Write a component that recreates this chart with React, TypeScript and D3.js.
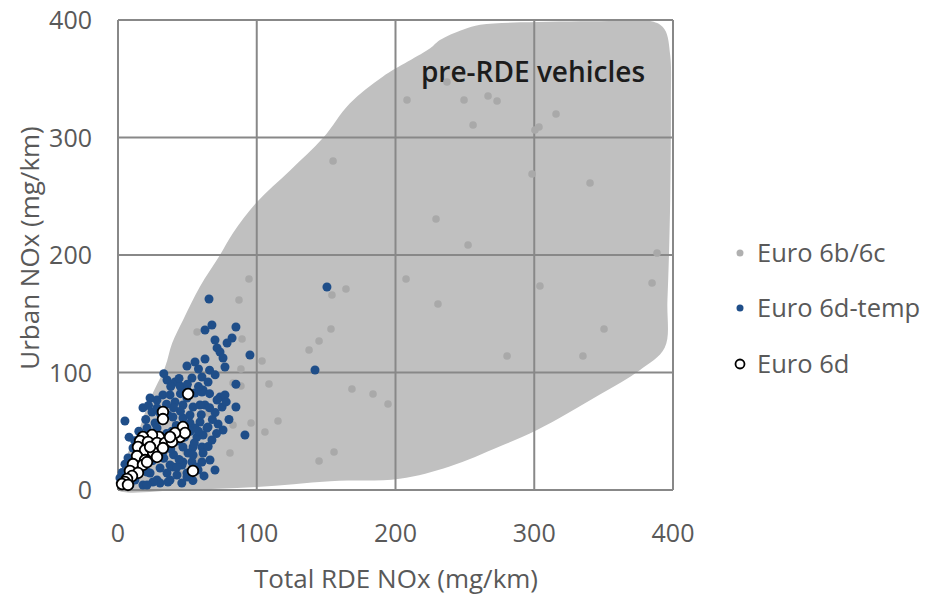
import React from 'react';
import * as d3 from 'd3';

// Total RDE NOx vs Urban NOx (mg/km)
const euro6bc: Array<[number, number]> = [
  [237.1, 347.2], [208.3, 331.9], [249.4, 331.9], [266.7, 335.3], [273.2, 331.1],
  [255.9, 310.6], [300.5, 306.4], [303.4, 308.9], [315.7, 320], [298.4, 268.9],
  [340.2, 261.3], [229.2, 230.6], [252.3, 208.5], [388.5, 201.7], [207.6, 179.6],
  [304.1, 173.6], [384.9, 176.2], [230.6, 158.3], [350.3, 137], [280.4, 114],
  [335.1, 114], [155, 280], [94.4, 179.6], [87.2, 161.7], [164.3, 171.1],
  [154.2, 166], [153.5, 137], [144.9, 126.8], [137.7, 119.1], [89.4, 128.5],
  [103.8, 109.8], [88.6, 103], [82.9, 91.1], [88.6, 88.5], [108.8, 90.2],
  [168.6, 86], [183.8, 81.7], [194.6, 73.2], [82.9, 55.3], [95.9, 57],
  [115.3, 58.7], [105.9, 49.4], [80.7, 31.5], [155.7, 32.3], [144.9, 24.7],
  [57, 134.5], [64.9, 65.5], [64.1, 46.8], [57.7, 27.2], [49, 32.3], [44, 13.6],
];

const euro6dTemp: Array<[number, number]> = [
  [5, 58.7], [65.6, 162.6], [150.6, 172.8], [142, 102.1], [85, 138.7],
  [82.2, 129.4], [95.1, 114.9], [85, 70.6], [91.5, 46.8], [67.7, 140.4],
  [62.7, 136.2], [69.9, 127.7], [78.6, 125.1], [71.4, 120.9], [73.5, 117.4],
  [75.7, 112.3], [77.1, 104.7], [62.7, 111.5], [55.5, 108.9], [49.7, 105.5],
  [35.3, 93.6], [41.1, 91.9], [44.7, 88.5], [53.3, 95.3], [60.5, 96.2],
  [64.9, 91.9], [49.7, 85.1], [55.5, 82.6], [61.3, 85.1], [73.5, 79.1],
  [77.1, 80.9], [75, 70.6], [71.4, 76.6], [28.1, 76.6], [32.4, 80.9],
  [37.5, 80.9], [41.1, 74.9], [46.8, 72.3], [54.1, 70.6], [62.7, 72.3],
  [24.5, 66.4], [30.3, 65.5], [36, 63.8], [39.6, 62.1], [46.8, 61.3],
  [51.9, 57], [59.1, 57.9], [64.9, 53.6], [72.1, 56.2], [75.7, 51.1],
  [26.7, 57], [25.2, 45.1], [56.9, 45.1], [60.5, 36.6], [54.1, 36.6],
  [46.8, 36.6], [50.5, 31.5], [46.8, 23.8], [39.6, 19.6], [53.3, 23.8],
  [35.3, 14.5], [28.1, 8.5], [30.3, 6], [37.5, 8.5], [23.1, 14.5],
  [23.1, 31.5], [61.3, 31.5], [56.9, 19.6], [7.2, 27.2], [10.8, 18.7],
  [1.4, 10.2], [8.6, 4.3], [18, 4.3], [25.2, 6.8], [42.5, 12.8],
  [49.7, 11.1], [57.7, 17], [37.5, 21.3], [46.1, 21.3], [32.4, 32.3],
  [54.1, 29.8], [61.3, 46.8], [55.5, 52.8], [51.9, 63.8], [59.1, 72.3],
  [60.5, 83.4], [23.1, 78.3], [28.1, 69.8], [32.4, 61.3], [49.7, 78.3],
  [28.1, 52.8], [20.9, 52.8], [17.3, 44.3], [10.8, 35.7], [14.4, 27.2],
  [20.9, 15.3], [30.3, 18.7], [67.7, 42.6], [66.3, 25.5], [69.9, 17],
  [64.1, 52.8], [60.5, 23.8], [49.7, 14.5], [42.5, 19.6], [36, 6.8],
  [20.9, 4.3], [38.9, 50], [43.2, 41.7], [16.6, 20.4], [12.2, 8.5],
  [15, 30], [20, 35], [12, 42], [25, 25], [33, 27], [40, 30], [44, 26],
  [38, 35], [30, 40], [35, 48], [42, 55], [48, 45], [55, 40], [58, 50],
  [52, 50], [45, 67], [40, 70], [35, 73], [38, 88], [44, 95], [50, 90],
  [58, 88], [66, 82], [70, 66], [68, 60], [80, 60], [78, 75], [66, 102],
  [70, 98], [58, 103], [45, 82], [20, 60], [15, 50], [8, 45], [5, 22],
  [3, 15], [62, 12], [54, 8], [46, 6], [60, 64], [33, 99], [85, 90],
  [18, 70], [22, 72], [66, 70], [71, 48], [65, 37], [43, 50], [27, 34],
];

const euro6d: Array<[number, number]> = [
  [50.5, 81.7], [32.4, 66.4], [32.4, 60.4], [46.8, 53.6], [44.7, 45.1],
  [48.3, 48.5], [41.1, 48.5], [36, 42.6], [29.5, 45.1], [24.5, 46.8],
  [18, 45.1], [15.9, 41.7], [21.6, 40.9], [28.1, 40], [33.9, 40],
  [38.9, 40.9], [14.4, 36.6], [19.5, 34], [25.2, 32.3], [32.4, 35.7],
  [13.7, 28.9], [19.5, 25.5], [28.1, 28.1], [10.8, 22.1], [18, 21.3],
  [20.9, 23.8], [8.6, 16.2], [14.4, 14.5], [10.1, 11.9], [6.5, 9.4],
  [5, 6.8], [2.9, 5.1], [7.2, 4.3], [54, 16.2], [23.1, 36.6], [37.5, 45.1],
];

// outline of the pre-RDE vehicle cloud
const preRdeOutline: Array<[number, number]> = [
  [0, 0], [45, 0], [100, 2.5], [153, 7.5], [203, 9.5], [239, 20], [275, 37],
  [302, 51], [347, 81], [376, 102], [394, 121], [396, 162], [398, 247],
  [398.5, 332], [398, 370], [394, 392], [386, 398.5], [347, 399], [290, 398],
  [261, 396], [249, 392], [232, 383], [225, 376], [191, 352], [167, 329],
  [148, 300], [124, 272], [100, 245], [83, 219], [73.5, 200], [59, 173],
  [47, 145], [39, 125], [34, 105], [23, 77], [14, 48], [6.5, 30], [0.5, 8],
];

const ticks = [0, 100, 200, 300, 400];

const legendItems = ['Euro 6b/6c', 'Euro 6d-temp', 'Euro 6d'];

const FONT = "'Open Sans', 'Noto Sans', sans-serif";

export default function App() {
  const x = d3.scaleLinear().domain([0, 400]).range([118, 673]);
  const y = d3.scaleLinear().domain([0, 400]).range([490, 20]);

  const outline = d3.line<[number, number]>()
    .x(d => x(d[0]))
    .y(d => y(d[1]))
    .curve(d3.curveCatmullRomClosed.alpha(0.5));

  const legendY = [253, 308, 364];

  return (
    <svg width={926} height={599} style={{ position: 'absolute', left: 0, top: 0, background: '#fff' }}>
      <path d={outline(preRdeOutline) ?? ''} fill="#c0c0c0" />

      {/* grid */}
      {ticks.map(t => (
        <line key={'v' + t} x1={x(t)} x2={x(t)} y1={y(0)} y2={y(400)} stroke="#888" strokeWidth={2} />
      ))}
      {ticks.map(t => (
        <line key={'h' + t} x1={x(0)} x2={x(400)} y1={y(t)} y2={y(t)} stroke="#888" strokeWidth={2} />
      ))}

      {/* tick labels */}
      {ticks.map(t => (
        <text key={'xt' + t} x={x(t)} y={542} textAnchor="middle" fontFamily={FONT} fontSize={25} fill="#595959">{t}</text>
      ))}
      {ticks.map(t => (
        <text key={'yt' + t} x={92} y={y(t) + 9} textAnchor="end" fontFamily={FONT} fontSize={25} fill="#595959">{t}</text>
      ))}

      <text x={396} y={588} textAnchor="middle" fontFamily={FONT} fontSize={26} fill="#595959">Total RDE NOx (mg/km)</text>
      <text transform="translate(39,248) rotate(-90)" textAnchor="middle" fontFamily={FONT} fontSize={26} fill="#595959">Urban NOx (mg/km)</text>

      <text x={533} y={82} textAnchor="middle" fontFamily={FONT} fontSize={28} fontWeight={600} fill="#1c1c1c">pre-RDE vehicles</text>

      {/* points */}
      {euro6bc.map((d, i) => (
        <circle key={'g' + i} cx={x(d[0])} cy={y(d[1])} r={3.8} fill="#a9a9a9" />
      ))}
      {euro6dTemp.map((d, i) => (
        <circle key={'b' + i} cx={x(d[0])} cy={y(d[1])} r={4.5} fill="#1f4e89" />
      ))}
      {euro6d.map((d, i) => (
        <circle key={'w' + i} cx={x(d[0])} cy={y(d[1])} r={5.3} fill="#fff" stroke="#000" strokeWidth={1.8} />
      ))}

      {/* legend */}
      <circle cx={740} cy={legendY[0]} r={3.5} fill="#b0b0b0" />
      <circle cx={740} cy={legendY[1]} r={3.5} fill="#1f4e89" />
      <circle cx={740} cy={legendY[2]} r={4.5} fill="#fff" stroke="#000" strokeWidth={1.8} />
      {legendItems.map((s, i) => (
        <text key={s} x={757} y={legendY[i] + 9} fontFamily={FONT} fontSize={25.5} fill="#595959">{s}</text>
      ))}
    </svg>
  );
}
